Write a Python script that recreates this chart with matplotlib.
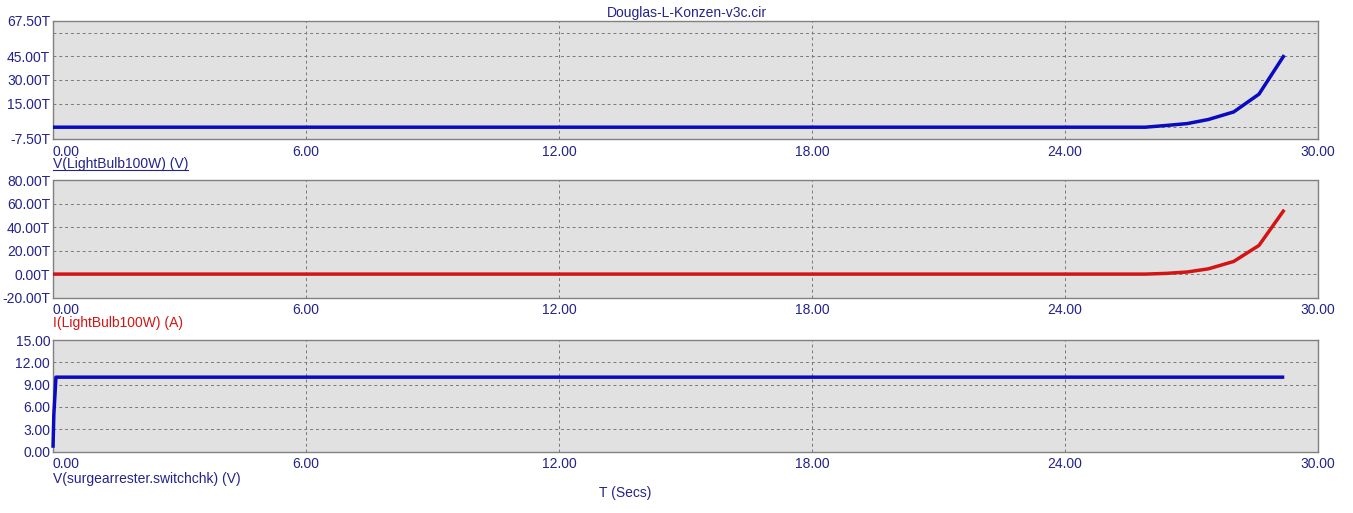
import numpy as np
import matplotlib
matplotlib.use('Agg')
import matplotlib.pyplot as plt
from matplotlib.lines import Line2D

plt.rcParams['font.family'] = ['Liberation Sans', 'DejaVu Sans']
plt.rcParams['font.size'] = 10

# data (T = 1e12, values kept in T units)
t_v = [0, 25.9, 26.4, 26.9, 27.4, 28.0, 28.6, 29.2]
v_bulb = [0, 0, 1.1, 2.3, 4.9, 9.7, 21.0, 45.8]

t_i = [0, 25.9, 26.4, 26.9, 27.4, 28.0, 28.6, 29.2]
i_bulb = [0, 0, 0.6, 1.8, 4.5, 10.8, 24.5, 55.0]

t_sw = [0, 0.02, 0.07, 29.2]
v_sw = [0.5, 5.0, 10.0, 10.0]

x_ticks = [0, 6, 12, 18, 24, 30]
x_grid = [6, 12, 18, 24]

top_ylim = (-7.5, 67.5)
top_ticks = [-7.5, 15, 30, 45, 67.5]
top_grid = [0, 15, 30, 45, 60]
mid_ylim = (-20, 80)
mid_ticks = [-20, 0, 20, 40, 60, 80]
mid_grid = [0, 20, 40, 60]
bot_ylim = (0, 15)
bot_ticks = [0, 3, 6, 9, 12, 15]
bot_grid = [3, 6, 9, 12]

navy = '#23238c'
blue = '#0a0ac0'
red = '#d41414'
panel_bg = '#e1e1e1'

W, H = 1353, 513
fig = plt.figure(figsize=(W / 100, H / 100), dpi=100)

def make_ax(top_px, bot_px):
    ax = fig.add_axes([53 / W, 1 - bot_px / H, 1265 / W, (bot_px - top_px) / H])
    ax.set_facecolor(panel_bg)
    for s in ax.spines.values():
        s.set_color('#808080')
        s.set_linewidth(1)
    ax.set_xlim(0, 30)
    ax.set_xticks(x_ticks)
    ax.tick_params(length=0, colors=navy, labelsize=10)
    ax.tick_params(axis='x', pad=4)
    ax.tick_params(axis='y', pad=2)
    for g in x_grid:
        ax.axvline(g, color='#787878', lw=0.7, ls=(0, (3, 3)), zorder=1)
    return ax

def fmt_x(ax):
    ax.set_xticklabels([f'{v:.2f}' for v in x_ticks])
    labs = ax.get_xticklabels()
    labs[0].set_horizontalalignment('left')

def hgrid(ax, vals):
    for g in vals:
        ax.axhline(g, color='#787878', lw=0.7, ls=(0, (3, 3)), zorder=1)

# top panel
ax1 = make_ax(21, 139)
ax1.set_ylim(*top_ylim)
ax1.set_yticks(top_ticks)
ax1.set_yticklabels([f'{v:.2f}T' for v in top_ticks])
hgrid(ax1, top_grid)
ax1.plot(t_v, v_bulb, color=blue, lw=2.5, zorder=3, solid_capstyle='butt')
fmt_x(ax1)

# middle panel
ax2 = make_ax(180.5, 297.5)
ax2.set_ylim(*mid_ylim)
ax2.set_yticks(mid_ticks)
ax2.set_yticklabels([f'{v:.2f}T' for v in mid_ticks])
hgrid(ax2, mid_grid)
ax2.plot(t_i, i_bulb, color=red, lw=2.5, zorder=3, solid_capstyle='butt')
fmt_x(ax2)

# bottom panel
ax3 = make_ax(340, 451.5)
ax3.set_ylim(*bot_ylim)
ax3.set_yticks(bot_ticks)
ax3.set_yticklabels([f'{v:.2f}' for v in bot_ticks])
hgrid(ax3, bot_grid)
ax3.plot(t_sw, v_sw, color=blue, lw=2.5, zorder=3, solid_capstyle='butt', clip_on=False)
fmt_x(ax3)

# titles and series labels
fig.text(687 / W, 1 - 13 / H, 'Douglas-L-Konzen-v3c.cir', color=navy,
         ha='center', va='center', fontsize=10)
fig.text(625 / W, 1 - 493 / H, 'T (Secs)', color=navy,
         ha='center', va='center', fontsize=10)

lab1 = fig.text(53 / W, 1 - 164 / H, 'V(LightBulb100W) (V)', color=navy,
                ha='left', va='center', fontsize=10)
fig.text(53 / W, 1 - 323 / H, 'I(LightBulb100W) (A)', color=red,
         ha='left', va='center', fontsize=10)
fig.text(53 / W, 1 - 479 / H, 'V(surgearrester.switchchk) (V)', color=navy,
         ha='left', va='center', fontsize=10)

# underline on first series label
fig.canvas.draw()
bb = lab1.get_window_extent(fig.canvas.get_renderer())
y_ul = (bb.y0 + 1.5) / H
fig.add_artist(Line2D([bb.x0 / W, bb.x1 / W], [y_ul, y_ul], color=navy, lw=0.8))

fig.savefig('out.png', dpi=100)
